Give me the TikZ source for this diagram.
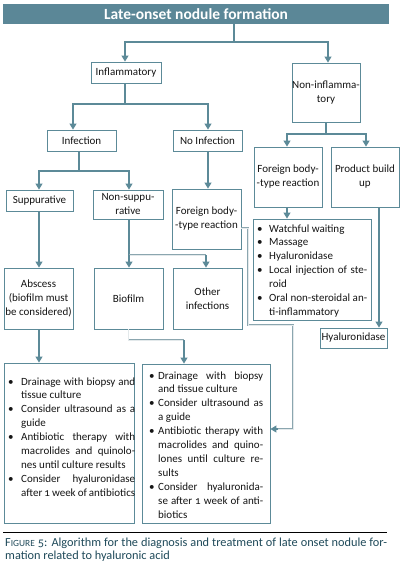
\documentclass[tikz,border=0pt]{standalone}
\usepackage{fontspec}
\setmainfont{Carlito}[Numbers=OldStyle]
\usetikzlibrary{arrows.meta,calc}
\definecolor{lnc}{HTML}{5C8A98}
\definecolor{titlec}{HTML}{5B8797}
\definecolor{gedge}{HTML}{8BA6AF}
\definecolor{gfill}{HTML}{E3E9EB}
\definecolor{capc}{HTML}{1F4A5A}
\definecolor{txtc}{HTML}{151515}
\newcommand\myitem[2]{\noindent\hangindent=#1\hangafter=1\makebox[#1][l]{\textbullet}#2\par}
\begin{document}
\begin{tikzpicture}[x=1pt,y=-1pt,
  box/.style={draw=lnc, line width=0.9pt, fill=white, inner sep=0pt, align=center, text=txtc, font=\fontsize{11}{14}\selectfont},
  lst/.style={inner sep=0pt, anchor=base west, align=justify, text=txtc, font=\fontsize{11}{13.9}\selectfont},
  conn/.style={draw=lnc, line width=1.1pt},
  arr/.style={draw=lnc, line width=1.1pt, -{Triangle[width=7pt,length=6pt]}},
  gconn/.style={draw=gedge, line width=0.5pt, double=gfill, double distance=0.9pt}
]
\useasboundingbox (0,0) rectangle (402,566);
\fill[white] (0,0) rectangle (402,566);

% title
\node[fill=titlec, minimum width=386pt, minimum height=20pt, inner sep=0pt, text=white,
      font=\bfseries\fontsize{15.5}{18}\selectfont] (title) at (196,14) {Late-onset nodule formation};

% boxes
\node[box, minimum width=70pt, minimum height=21pt] (infl) at (126,72.5) {Inflammatory};
\node[box, minimum width=68pt, minimum height=59pt] (noninfl) at (326,92.5) {Non-inflamma-\\tory};
\node[box, minimum width=69pt, minimum height=21pt] (inf) at (81.5,140.5) {Infection};
\node[box, minimum width=69pt, minimum height=21pt] (noinf) at (207.5,140.5) {No Infection};
\node[box, minimum width=68pt, minimum height=60pt] (fbr) at (288,177) {Foreign body-\\-type reaction};
\node[box, minimum width=68pt, minimum height=60pt] (pbu) at (365,177) {Product build\\up};
\node[box, minimum width=67pt, minimum height=21pt] (supp) at (39.5,200.5) {Suppurative};
\node[box, minimum width=70pt, minimum height=29pt] (nonsupp) at (128,204.5) {Non-suppu-\\rative};
\node[box, minimum width=69pt, minimum height=60pt] (fbl) at (206.5,219) {Foreign body-\\-type reaction};
\node[box, minimum width=118pt, minimum height=101pt] (wlist) at (312,269.5) {};
\node[box, minimum width=67pt, minimum height=20pt] (hyal) at (353.5,338) {Hyaluronidase};
\node[box, minimum width=69pt, minimum height=61pt] (absc) at (38.5,298.5) {Abscess\\(biofilm must\\be considered)};
\node[box, minimum width=69pt, minimum height=61pt] (bio) at (128.5,298.5) {Biofilm};
\node[box, minimum width=69pt, minimum height=61pt] (oth) at (207.5,298.5) {Other\\infections};
\node[box, minimum width=130pt, minimum height=160pt] (tl) at (69,443) {};
\node[box, minimum width=128pt, minimum height=159pt] (tr) at (206,443.5) {};

% list texts
\node[lst, text width=110pt] (wlt) at (257,232) {%
\myitem{12pt}{Watchful waiting}%
\myitem{12pt}{Massage}%
\myitem{12pt}{Hyaluronidase}%
\myitem{12pt}{Local injection of ste-\linebreak roid}%
\myitem{12pt}{Oral non-steroidal an-\linebreak ti-inflammatory}};

\node[lst, text width=127pt] (tlt) at (8,385) {%
\myitem{13pt}{Drainage with biopsy and\linebreak tissue culture}%
\myitem{13pt}{Consider ultrasound as a\linebreak guide}%
\myitem{13pt}{Antibiotic therapy with\linebreak macrolides and quinolo-\linebreak nes until culture results}%
\myitem{13pt}{Consider hyaluronidase\linebreak after 1 week of antibiotics}};

\node[lst, text width=114pt] (trt) at (149,379) {%
\myitem{9pt}{Drainage with biopsy\linebreak and tissue culture}%
\myitem{9pt}{Consider ultrasound as\linebreak a guide}%
\myitem{9pt}{Antibiotic therapy with\linebreak macrolides and quino-\linebreak lones until culture re-\linebreak sults}%
\myitem{9pt}{Consider hyaluronida-\linebreak se after 1 week of anti-\linebreak biotics}};

% connectors
\coordinate (b1) at (234,42);
\draw[conn] ([xshift=38pt]title.south) -- (b1);
\draw[arr] (b1) -| ([xshift=-1pt]infl.north);
\draw[arr] (b1) -| ([xshift=2pt]noninfl.north);

\coordinate (b2) at (125,104);
\draw[conn] (infl.south -| b2) -- (b2);
\draw[arr] (b2) -| ([xshift=-8.5pt]inf.north);
\draw[arr] (b2) -| ([xshift=0.5pt]noinf.north);

\coordinate (b3) at (326,134);
\draw[conn] (noninfl.south) -- (b3);
\draw[arr] (b3) -| ([xshift=-1pt]fbr.north);
\draw[arr] (b3) -| ([xshift=1pt]pbu.north);

\coordinate (b4) at (79,171);
\draw[conn] (inf.south -| b4) -- (b4);
\draw[arr] (b4) -| ([xshift=-0.5pt]supp.north);
\draw[arr] (b4) -| ([xshift=1pt]nonsupp.north);

\draw[arr] ([xshift=0.5pt]noinf.south) -- ([xshift=0.5pt]noinf.south |- fbl.north);
\draw[arr] ([xshift=-1pt]fbr.south) -- ([xshift=-1pt]fbr.south |- wlist.north);
\draw[arr] ([xshift=14pt]pbu.south) -- ([xshift=14pt]pbu.south |- hyal.north);
\draw[arr] ([xshift=-0.5pt]supp.south) -- ([xshift=-0.5pt]supp.south |- absc.north);

\coordinate (b5) at (129,255);
\coordinate (b6) at (206,255);
\draw[conn] ([xshift=1pt]nonsupp.south) -- (b5);
\draw[gconn] (b5) -- (b6);
\draw[arr] (b5) -- (b5 |- bio.north);
\draw[arr] (b6) -- (b6 |- oth.north);

\draw[arr] ([xshift=0.5pt]absc.south) -- ([xshift=0.5pt]absc.south |- tl.north);

\coordinate (b7) at (184,340);
\draw[gconn] (bio.south) |- (b7);
\draw[arr] (b7) -- (b7 |- tr.north);

\coordinate (c1) at (248,228);
\coordinate (c2) at (248,325);
\coordinate (c3) at (293,325);
\coordinate (c4) at (293,429);
\draw[gconn] ([yshift=-9pt]fbl.east) -- (c1) -- (c2) -- (c3) -- (c4) -- ([yshift=14.5pt,xshift=6pt]tr.east);
\draw[arr] ([yshift=14.5pt,xshift=8pt]tr.east) -- ([yshift=14.5pt]tr.east);

% caption
\draw[black, line width=0.8pt] (3,532) -- (387,532);
\node[lst, text width=382pt, text=capc, font=\fontsize{12.3}{13.8}\selectfont] (cap) at (5,546)
 {F{\fontsize{9.4}{10}\selectfont IGURE} 5: Algorithm for the diagnosis and treatment of late onset nodule for-\linebreak mation related to hyaluronic acid};
\end{tikzpicture}
\end{document}
